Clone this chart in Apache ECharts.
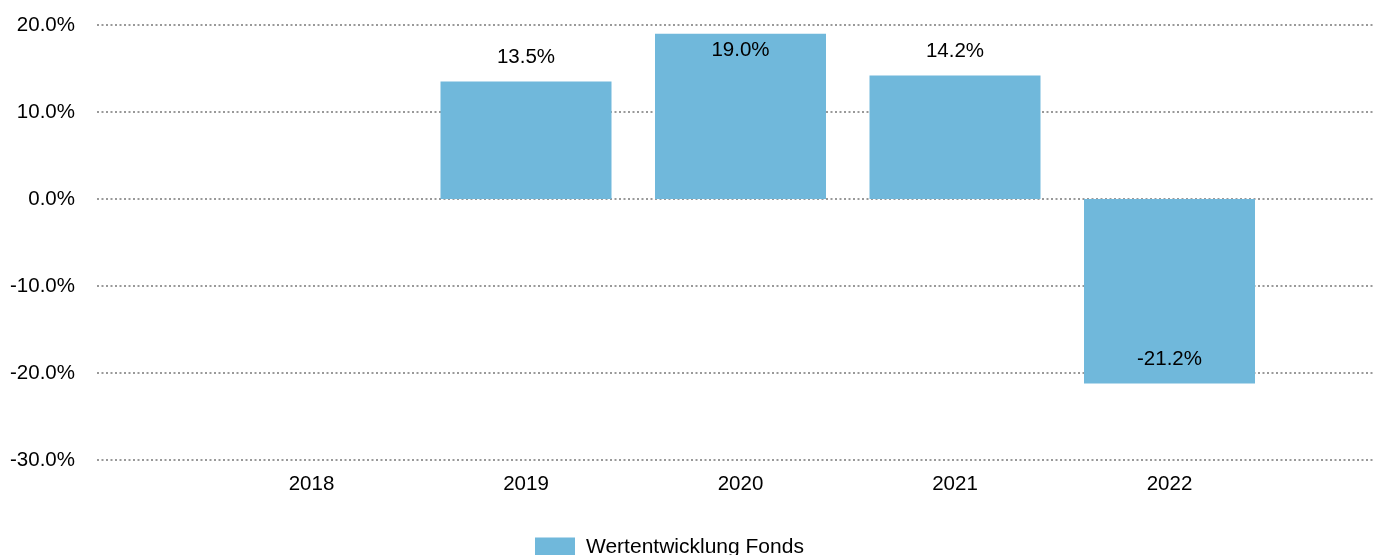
<!DOCTYPE html>
<html>
<head>
<meta charset="utf-8">
<script src="https://cdn.jsdelivr.net/npm/echarts@6/dist/echarts.min.js"></script>
<style>
  html, body { margin: 0; padding: 0; background: #fff; }
  #main { width: 1375px; height: 555px; }
</style>
</head>
<body>
<div id="main"></div>
<script>
// Jahre (leere Randkategorien fuer den Abstand links/rechts)
var years = ['', '2018', '2019', '2020', '2021', '2022', ''];
var fondsValues = ['-', '-', 13.5, 19.0, 14.2, -21.2, '-'];
// Label-Position je Balken wie im Original
var labelPos = [null, null, 'top', 'insideTop', 'top', 'insideBottom', null];
var yTicks = { min: -30, max: 20, interval: 10 };

var myChart = echarts.init(document.getElementById('main'));

var fontFamily = 'Liberation Sans, Arial, sans-serif';

var seriesData = fondsValues.map(function (v, i) {
    if (v === '-') return '-';
    return {
        value: v,
        label: {
            position: labelPos[i],
            distance: labelPos[i] === 'insideTop' ? 6 : 14
        }
    };
});

var option = {
    animation: false,
    grid: {
        left: 97,
        top: 25,
        width: 1287,
        height: 435,
        outerBoundsMode: 'none'
    },
    legend: {
        left: 535,
        top: 537,
        padding: 0,
        itemWidth: 40,
        itemHeight: 20,
        icon: 'rect',
        data: ['Wertentwicklung Fonds'],
        textStyle: {
            fontFamily: fontFamily,
            fontSize: 21,
            color: '#000',
            padding: [0, 0, 0, 6]
        }
    },
    xAxis: {
        type: 'category',
        data: years,
        boundaryGap: false,
        axisLine: { show: false },
        axisTick: { show: false },
        axisLabel: {
            interval: 0,
            margin: 14,
            fontFamily: fontFamily,
            fontSize: 20.5,
            color: '#000'
        }
    },
    yAxis: {
        type: 'value',
        min: yTicks.min,
        max: yTicks.max,
        interval: yTicks.interval,
        axisLine: { show: false },
        axisTick: { show: false },
        axisLabel: {
            margin: 22,
            fontFamily: fontFamily,
            fontSize: 20.5,
            color: '#000',
            formatter: function (v) { return v.toFixed(1) + '%'; }
        },
        splitLine: {
            lineStyle: {
                color: '#999',
                width: 2,
                type: [2, 2.5]
            }
        }
    },
    series: [
        {
            name: 'Wertentwicklung Fonds',
            type: 'bar',
            barWidth: 171,
            data: seriesData,
            itemStyle: { color: '#70b8db' },
            label: {
                show: true,
                fontFamily: fontFamily,
                fontSize: 20.5,
                color: '#000',
                formatter: function (p) { return p.value.toFixed(1) + '%'; }
            }
        }
    ]
};

myChart.setOption(option, true);
</script>
</body>
</html>
